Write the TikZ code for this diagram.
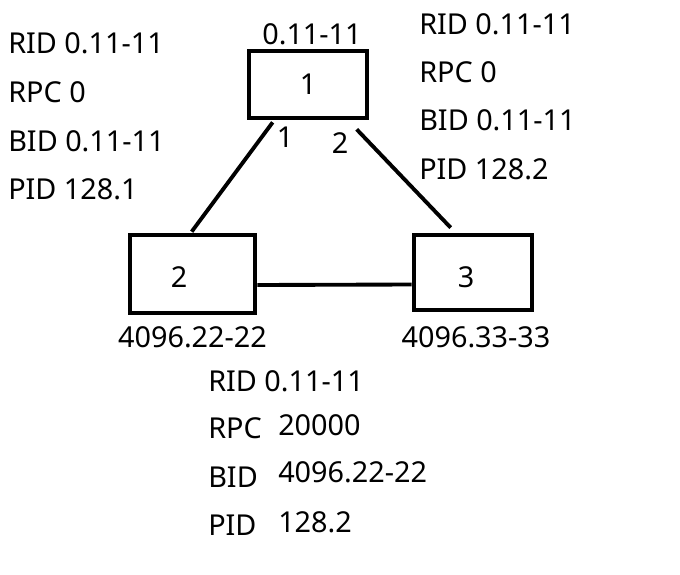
\documentclass[tikz,border=0pt]{standalone}
\usepackage{fontspec}
\setmainfont{Noto Sans}
\usetikzlibrary{positioning, calc}

\begin{document}
\begin{tikzpicture}[x=0.75pt,y=-0.75pt,
	bridge/.style={draw, line width=3.5pt, inner sep=0pt},
	link/.style={line width=2.9pt},
	info/.style={anchor=base west, inner sep=0pt, font=\fontsize{21.6}{25}\selectfont},
	tag/.style={anchor=base, inner sep=0pt, font=\fontsize{21.6}{25}\selectfont}]
	
	\useasboundingbox (0,0) rectangle (680,574);
	
	%Bruecken
	\node (b1) [bridge, minimum width=88.5pt, minimum height=50.25pt] at (308,84.5) {};
	\node (b2) [bridge, minimum width=93.75pt, minimum height=58.5pt] at (192.5,274) {};
	\node (b3) [bridge, minimum width=88.5pt, minimum height=56.25pt] at (473,272.5) {};
	
	\node (n1) [tag] at (308,94) {1};
	\node (n2) [tag] at (179,287) {2};
	\node (n3) [tag] at (466,287) {3};
	
	%Ports
	\coordinate (b1p1) at ($(b1.south west)+(26,2)$);
	\coordinate (b1p2) at ($(b1.south west)+(110,9)$);
	\coordinate (b2up) at ($(b2.north west)+(64,-1)$);
	\coordinate (b3up) at ($(b3.north west)+(39,-5)$);
	\coordinate (b2rt) at ($(b2.east)+(0,11)$);
	\coordinate (b3lt) at ($(b3.west)+(0,12)$);
	
	%Kanten
	\draw[link] (b1p1) -- (b2up);
	\draw[link] (b1p2) -- (b3up);
	\draw[link] (b2rt) -- (b3lt);
	
	\node (p1) [tag] at (285,147) {1};
	\node (p2) [tag] at (340,153) {2};
	
	%IDs
	\node (id1) [tag] at (312,45) {0.11-11};
	\node (id2) [tag] at (192.5,347) {4096.22-22};
	\node (id3) [tag] at (476,347) {4096.33-33};
	
	%Werte links
	\node (l1) [info] at (8,54) {RID 0.11-11};
	\node (l2) [info] at (8,103) {RPC 0};
	\node (l3) [info] at (8,151) {BID 0.11-11};
	\node (l4) [info] at (8,199) {PID 128.1};
	
	%Werte rechts
	\node (r1) [info] at (419,35) {RID 0.11-11};
	\node (r2) [info] at (419,83) {RPC 0};
	\node (r3) [info] at (419,131) {BID 0.11-11};
	\node (r4) [info] at (419,179) {PID 128.2};
	
	%Werte unten
	\node (u1) [info] at (208,391) {RID 0.11-11};
	\node (u2) [info] at (208,438) {RPC};
	\node (u3) [info] at (208,487) {BID};
	\node (u4) [info] at (208,535) {PID};
	\node (v2) [info] at (278,435) {20000};
	\node (v3) [info] at (278,482) {4096.22-22};
	\node (v4) [info] at (278,532) {128.2};
	
\end{tikzpicture}
\end{document}
